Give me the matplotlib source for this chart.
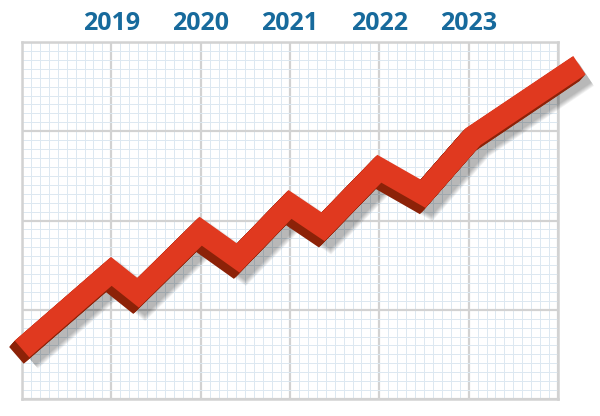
import numpy as np
import matplotlib.pyplot as plt
from matplotlib.transforms import offset_copy

# year labels along the top
years = [2019, 2020, 2021, 2022, 2023]
# zigzag trend line (x in years, y in grid units)
line_x = [2018.0, 2019.0, 2019.3, 2020.0, 2020.42, 2021.0, 2021.37, 2022.0, 2022.49, 2023.05, 2024.24]
line_y = [0.56, 1.43, 1.19, 1.88, 1.58, 2.18, 1.93, 2.58, 2.30, 2.94, 3.74]

fig = plt.figure(figsize=(6, 4.16), dpi=100)
ax = fig.add_axes([22/600, 17/416, 536/600, 357/416])
ax.set_xlim(2018, 2024)
ax.set_ylim(0, 4)

ax.set_xticks(range(2018, 2025))
ax.set_xticklabels([""] + [str(y) for y in years] + [""])
ax.set_yticks(range(0, 5))
ax.set_xticks(np.arange(2018, 2024.001, 0.1), minor=True)
ax.set_yticks(np.arange(0, 4.001, 0.1), minor=True)
ax.set_yticklabels([])
ax.xaxis.tick_top()
ax.tick_params(which="both", length=0)
ax.tick_params(axis="x", which="major", pad=4, labelsize=18, labelcolor="#176a9c")
for lab in ax.get_xticklabels():
    lab.set_fontfamily(["Open Sans", "DejaVu Sans"])
    lab.set_fontweight("bold")

ax.grid(which="minor", color="#dce8f1", lw=0.7)
ax.grid(which="major", color="#d2d2d2", lw=1.6)
for s in ax.spines.values():
    s.set_color("#d2d2d2")
    s.set_linewidth(1.8)

lw = 16
kw = dict(solid_joinstyle="miter", solid_capstyle="butt", clip_on=False)

# soft shadow
for k in range(6):
    tr = offset_copy(ax.transData, fig=fig, x=6, y=-8, units="dots")
    ax.plot(line_x, line_y, color="black", alpha=0.05, lw=lw + 1.2 * k,
            transform=tr, zorder=3, **kw)

# dark side of the ribbon
for k in range(1, 8):
    tr = offset_copy(ax.transData, fig=fig, x=-0.8 * k, y=-0.9 * k, units="dots")
    ax.plot(line_x, line_y, color="#8c2208", lw=lw, transform=tr, zorder=4, **kw)

# front face
ax.plot(line_x, line_y, color="#e0391f", lw=lw, zorder=5, **kw)

fig.savefig("out.png", dpi=100)
